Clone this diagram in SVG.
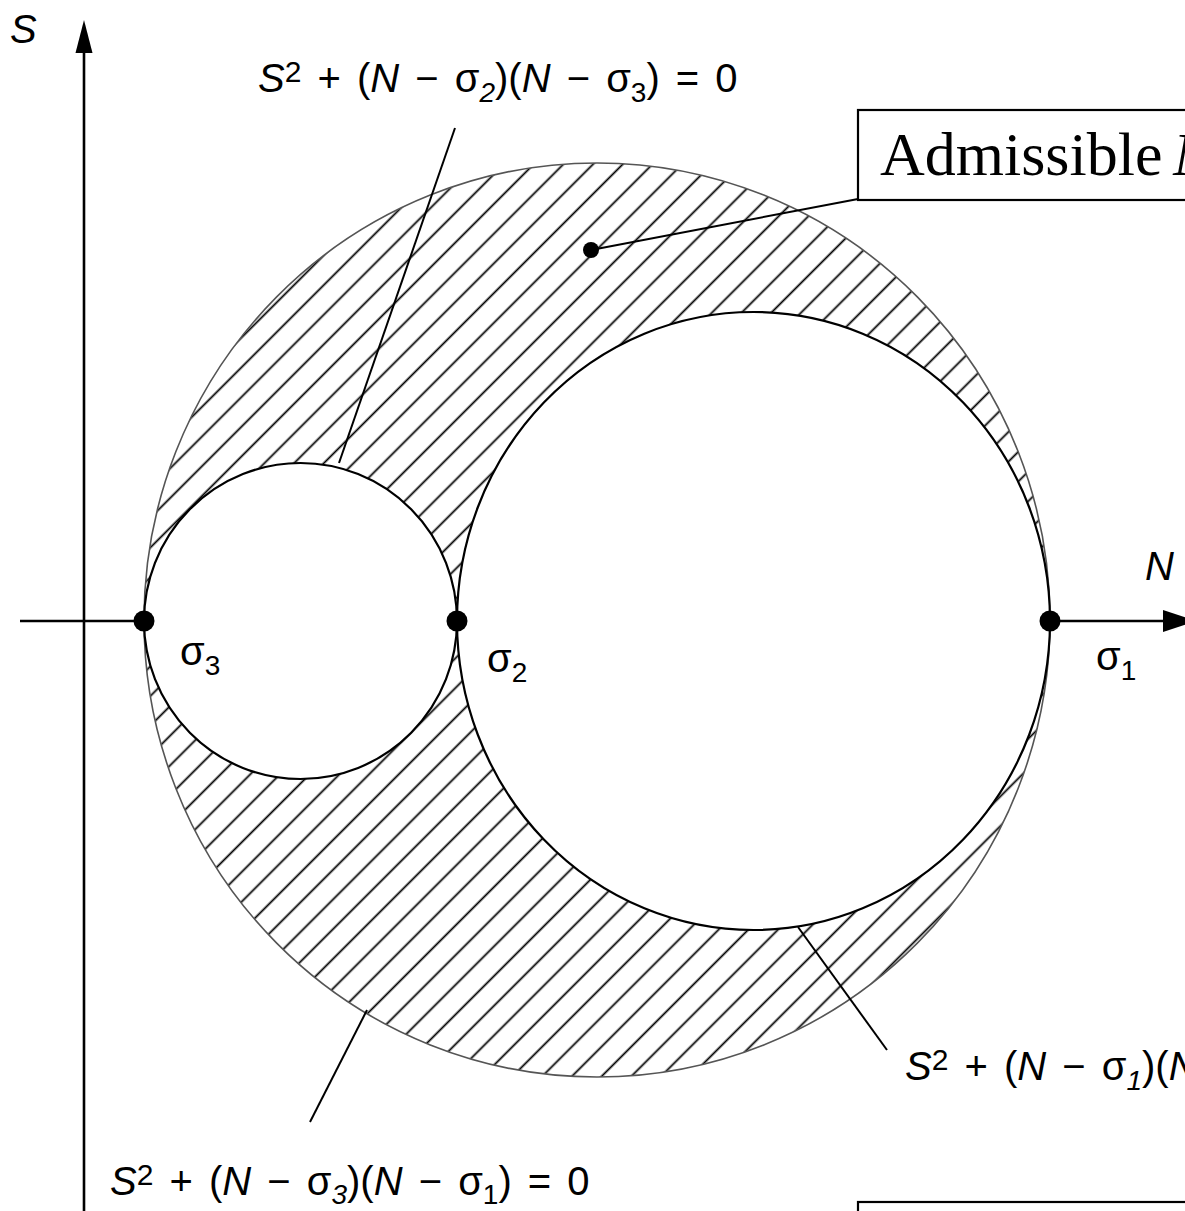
<svg xmlns="http://www.w3.org/2000/svg" width="1185" height="1211" viewBox="0 0 1185 1211">
<style>
.eq{font-family:"Liberation Sans",Arial,sans-serif;font-size:40px;fill:#000;word-spacing:5px}
.it{font-style:italic}
.sp{font-size:30px;font-style:normal}
.sm{font-size:28px;font-style:normal}
.smi{font-size:28px;font-style:italic}
.ax{stroke:#000;stroke-width:2.6;fill:none}
.lead{stroke:#000;stroke-width:2;fill:none}
.box{fill:#fff;stroke:#000;stroke-width:2.2}
.dot{fill:#000}
.inner{fill:#fff;stroke:#000;stroke-width:2.2}
</style>
<defs>
<pattern id="hatch" patternUnits="userSpaceOnUse" width="21" height="21" patternTransform="rotate(-45)">
<line x1="-2" y1="10.5" x2="23" y2="10.5" stroke="#000" stroke-width="1.8"/>
</pattern>
</defs>
<rect width="1185" height="1211" fill="#fff"/>

<g id="axes">
<line class="ax" x1="84" y1="1211" x2="84" y2="48"/>
<polygon points="84,20 75.5,53 92.5,53" fill="#000"/>
<line class="ax" x1="20" y1="621" x2="1168" y2="621"/>
<polygon points="1196,621 1163,610 1163,632" fill="#000"/>
<text class="eq it" x="10" y="43" font-size="33">S</text>
<text class="eq it" x="1145" y="580">N</text>
</g>

<g id="region">
<ellipse cx="597" cy="620" rx="453" ry="457" fill="url(#hatch)" stroke="#555" stroke-width="1.6"/>
<ellipse class="inner" cx="300.5" cy="621" rx="156.5" ry="158"/>
<ellipse class="inner" cx="753.5" cy="621" rx="296.5" ry="309"/>
</g>

<g id="connectors">
<line class="lead" x1="455" y1="128" x2="339" y2="463"/>
<line class="lead" x1="591" y1="250" x2="858" y2="199"/>
<line class="lead" x1="367" y1="1010" x2="310" y2="1122"/>
<line class="lead" x1="798" y1="927" x2="887" y2="1050"/>
</g>

<g id="points">
<circle class="dot" cx="144" cy="621" r="10.5"/>
<circle class="dot" cx="457" cy="621" r="10.5"/>
<circle class="dot" cx="1050" cy="621" r="10.5"/>
<circle class="dot" cx="591" cy="250" r="8"/>
</g>

<g id="sigma-labels">
<text class="eq" font-size="36" x="180" y="665">σ<tspan class="sm" dy="10">3</tspan></text>
<text class="eq" font-size="36" x="487" y="672">σ<tspan class="sm" dy="10">2</tspan></text>
<text class="eq" font-size="36" x="1096" y="670">σ<tspan class="sm" dy="10">1</tspan></text>
</g>

<g id="eq-top">
<text class="eq" x="258" y="92"><tspan class="it">S</tspan><tspan class="sp" dy="-10">2</tspan><tspan dy="10"> + (</tspan><tspan class="it">N</tspan> − σ<tspan class="smi" dy="10">2</tspan><tspan dy="-10">)(</tspan><tspan class="it">N</tspan> − σ<tspan class="sm" dy="10">3</tspan><tspan dy="-10">) = 0</tspan></text>
</g>

<g id="eq-bottom">
<text class="eq" x="110" y="1195"><tspan class="it">S</tspan><tspan class="sp" dy="-10">2</tspan><tspan dy="10"> + (</tspan><tspan class="it">N</tspan> − σ<tspan class="smi" dy="9">3</tspan><tspan dy="-9">)(</tspan><tspan class="it">N</tspan> − σ<tspan class="sm" dy="9">1</tspan><tspan dy="-9">) = 0</tspan></text>
</g>

<g id="eq-right">
<text class="eq" x="905" y="1080"><tspan class="it">S</tspan><tspan class="sp" dy="-10">2</tspan><tspan dy="10"> + (</tspan><tspan class="it">N</tspan> − σ<tspan class="smi" dy="10">1</tspan><tspan dy="-10">)(</tspan><tspan class="it">N</tspan></text>
</g>

<g id="box-admissible">
<rect class="box" x="858" y="110" width="400" height="90"/>
<text x="880" y="175" font-family="'Liberation Serif','Times New Roman',serif" font-size="62">Admissible<tspan x="1173" font-style="italic">N</tspan></text>
</g>

<g id="box-bottom">
<rect class="box" x="858" y="1202" width="400" height="60"/>
</g>
</svg>
